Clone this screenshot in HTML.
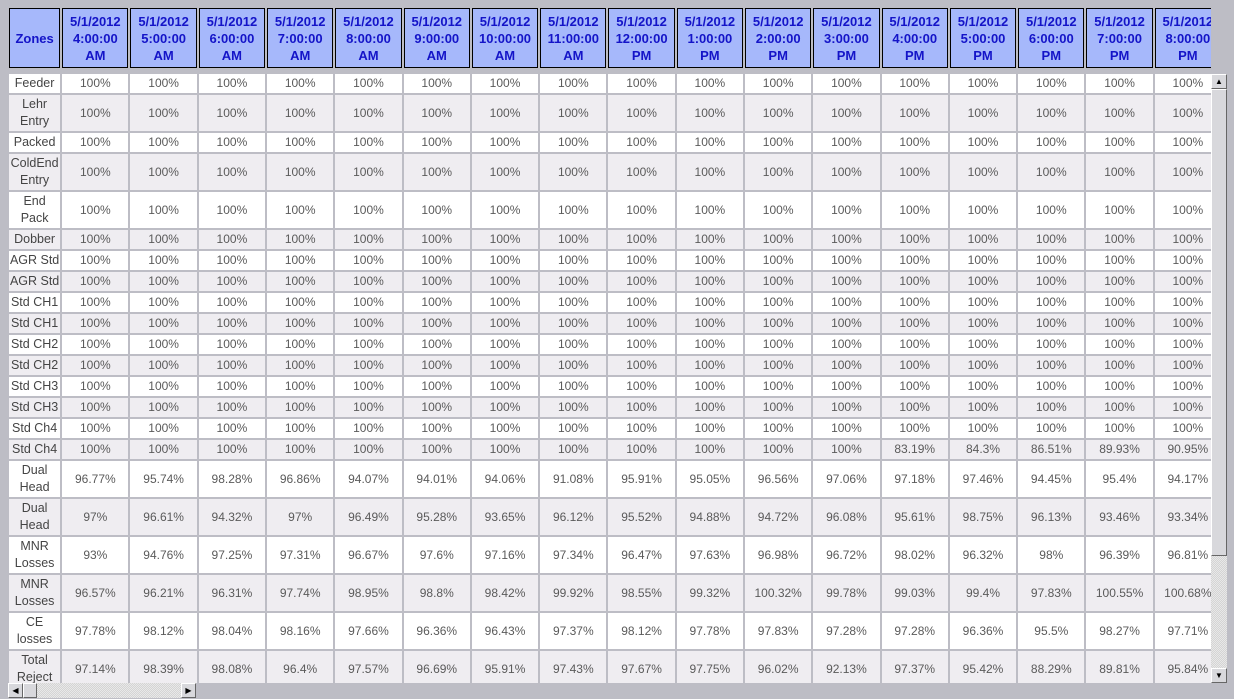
<!DOCTYPE html>
<html><head><meta charset="utf-8"><style>
body{margin:0;width:1234px;height:699px;background:#bdbdc5;position:relative;overflow:hidden;font-family:"Liberation Sans",sans-serif}
.clip{position:absolute;left:7px;overflow:hidden;width:1204px}
table{border-collapse:separate;border-spacing:2px;table-layout:fixed;width:1216px}
col.z{width:51px}col.c{width:66px}
th{background:#a6b8fb;border:1px solid #000;color:#1414c8;font-weight:bold;font-size:13px;line-height:17px;height:60px;padding:0;text-align:center;vertical-align:middle;box-sizing:border-box}
td{padding:0;text-align:center;vertical-align:middle;color:#5a5a5a;font-size:12px;height:19px;line-height:17px;white-space:nowrap;overflow:hidden}
td.n{font-size:12.5px;color:#444}
tr.w td{background:#fff}tr.g td{background:#efedf1}
tr.d td{height:36px}
.sb{position:absolute;background:repeating-conic-gradient(#e8e8e8 0 25%,#d4d4d4 0 50%) 0 0/2px 2px}
.btn{position:absolute;background:#d8d8dc;border:1px solid;border-color:#fff #666 #666 #fff;box-sizing:border-box;font-size:8px;line-height:13px;text-align:center;color:#000}
</style></head><body>
<div class="clip" style="top:6px;height:68px">
<table><colgroup><col class="z"><col class="c"><col class="c"><col class="c"><col class="c"><col class="c"><col class="c"><col class="c"><col class="c"><col class="c"><col class="c"><col class="c"><col class="c"><col class="c"><col class="c"><col class="c"><col class="c"><col class="c"></colgroup>
<tr><th>Zones</th><th>5/1/2012<br>4:00:00<br>AM</th><th>5/1/2012<br>5:00:00<br>AM</th><th>5/1/2012<br>6:00:00<br>AM</th><th>5/1/2012<br>7:00:00<br>AM</th><th>5/1/2012<br>8:00:00<br>AM</th><th>5/1/2012<br>9:00:00<br>AM</th><th>5/1/2012<br>10:00:00<br>AM</th><th>5/1/2012<br>11:00:00<br>AM</th><th>5/1/2012<br>12:00:00<br>PM</th><th>5/1/2012<br>1:00:00<br>PM</th><th>5/1/2012<br>2:00:00<br>PM</th><th>5/1/2012<br>3:00:00<br>PM</th><th>5/1/2012<br>4:00:00<br>PM</th><th>5/1/2012<br>5:00:00<br>PM</th><th>5/1/2012<br>6:00:00<br>PM</th><th>5/1/2012<br>7:00:00<br>PM</th><th>5/1/2012<br>8:00:00<br>PM</th></tr>
</table></div>
<div class="clip" style="top:72px;height:611px">
<table><colgroup><col class="z"><col class="c"><col class="c"><col class="c"><col class="c"><col class="c"><col class="c"><col class="c"><col class="c"><col class="c"><col class="c"><col class="c"><col class="c"><col class="c"><col class="c"><col class="c"><col class="c"><col class="c"></colgroup>
<tr class="w"><td class="n">Feeder</td><td>100%</td><td>100%</td><td>100%</td><td>100%</td><td>100%</td><td>100%</td><td>100%</td><td>100%</td><td>100%</td><td>100%</td><td>100%</td><td>100%</td><td>100%</td><td>100%</td><td>100%</td><td>100%</td><td>100%</td></tr>
<tr class="g d"><td class="n">Lehr<br>Entry</td><td>100%</td><td>100%</td><td>100%</td><td>100%</td><td>100%</td><td>100%</td><td>100%</td><td>100%</td><td>100%</td><td>100%</td><td>100%</td><td>100%</td><td>100%</td><td>100%</td><td>100%</td><td>100%</td><td>100%</td></tr>
<tr class="w"><td class="n">Packed</td><td>100%</td><td>100%</td><td>100%</td><td>100%</td><td>100%</td><td>100%</td><td>100%</td><td>100%</td><td>100%</td><td>100%</td><td>100%</td><td>100%</td><td>100%</td><td>100%</td><td>100%</td><td>100%</td><td>100%</td></tr>
<tr class="g d"><td class="n">ColdEnd<br>Entry</td><td>100%</td><td>100%</td><td>100%</td><td>100%</td><td>100%</td><td>100%</td><td>100%</td><td>100%</td><td>100%</td><td>100%</td><td>100%</td><td>100%</td><td>100%</td><td>100%</td><td>100%</td><td>100%</td><td>100%</td></tr>
<tr class="w d"><td class="n">End<br>Pack</td><td>100%</td><td>100%</td><td>100%</td><td>100%</td><td>100%</td><td>100%</td><td>100%</td><td>100%</td><td>100%</td><td>100%</td><td>100%</td><td>100%</td><td>100%</td><td>100%</td><td>100%</td><td>100%</td><td>100%</td></tr>
<tr class="g"><td class="n">Dobber</td><td>100%</td><td>100%</td><td>100%</td><td>100%</td><td>100%</td><td>100%</td><td>100%</td><td>100%</td><td>100%</td><td>100%</td><td>100%</td><td>100%</td><td>100%</td><td>100%</td><td>100%</td><td>100%</td><td>100%</td></tr>
<tr class="w"><td class="n">AGR Std</td><td>100%</td><td>100%</td><td>100%</td><td>100%</td><td>100%</td><td>100%</td><td>100%</td><td>100%</td><td>100%</td><td>100%</td><td>100%</td><td>100%</td><td>100%</td><td>100%</td><td>100%</td><td>100%</td><td>100%</td></tr>
<tr class="g"><td class="n">AGR Std</td><td>100%</td><td>100%</td><td>100%</td><td>100%</td><td>100%</td><td>100%</td><td>100%</td><td>100%</td><td>100%</td><td>100%</td><td>100%</td><td>100%</td><td>100%</td><td>100%</td><td>100%</td><td>100%</td><td>100%</td></tr>
<tr class="w"><td class="n">Std CH1</td><td>100%</td><td>100%</td><td>100%</td><td>100%</td><td>100%</td><td>100%</td><td>100%</td><td>100%</td><td>100%</td><td>100%</td><td>100%</td><td>100%</td><td>100%</td><td>100%</td><td>100%</td><td>100%</td><td>100%</td></tr>
<tr class="g"><td class="n">Std CH1</td><td>100%</td><td>100%</td><td>100%</td><td>100%</td><td>100%</td><td>100%</td><td>100%</td><td>100%</td><td>100%</td><td>100%</td><td>100%</td><td>100%</td><td>100%</td><td>100%</td><td>100%</td><td>100%</td><td>100%</td></tr>
<tr class="w"><td class="n">Std CH2</td><td>100%</td><td>100%</td><td>100%</td><td>100%</td><td>100%</td><td>100%</td><td>100%</td><td>100%</td><td>100%</td><td>100%</td><td>100%</td><td>100%</td><td>100%</td><td>100%</td><td>100%</td><td>100%</td><td>100%</td></tr>
<tr class="g"><td class="n">Std CH2</td><td>100%</td><td>100%</td><td>100%</td><td>100%</td><td>100%</td><td>100%</td><td>100%</td><td>100%</td><td>100%</td><td>100%</td><td>100%</td><td>100%</td><td>100%</td><td>100%</td><td>100%</td><td>100%</td><td>100%</td></tr>
<tr class="w"><td class="n">Std CH3</td><td>100%</td><td>100%</td><td>100%</td><td>100%</td><td>100%</td><td>100%</td><td>100%</td><td>100%</td><td>100%</td><td>100%</td><td>100%</td><td>100%</td><td>100%</td><td>100%</td><td>100%</td><td>100%</td><td>100%</td></tr>
<tr class="g"><td class="n">Std CH3</td><td>100%</td><td>100%</td><td>100%</td><td>100%</td><td>100%</td><td>100%</td><td>100%</td><td>100%</td><td>100%</td><td>100%</td><td>100%</td><td>100%</td><td>100%</td><td>100%</td><td>100%</td><td>100%</td><td>100%</td></tr>
<tr class="w"><td class="n">Std Ch4</td><td>100%</td><td>100%</td><td>100%</td><td>100%</td><td>100%</td><td>100%</td><td>100%</td><td>100%</td><td>100%</td><td>100%</td><td>100%</td><td>100%</td><td>100%</td><td>100%</td><td>100%</td><td>100%</td><td>100%</td></tr>
<tr class="g"><td class="n">Std Ch4</td><td>100%</td><td>100%</td><td>100%</td><td>100%</td><td>100%</td><td>100%</td><td>100%</td><td>100%</td><td>100%</td><td>100%</td><td>100%</td><td>100%</td><td>83.19%</td><td>84.3%</td><td>86.51%</td><td>89.93%</td><td>90.95%</td></tr>
<tr class="w d"><td class="n">Dual<br>Head</td><td>96.77%</td><td>95.74%</td><td>98.28%</td><td>96.86%</td><td>94.07%</td><td>94.01%</td><td>94.06%</td><td>91.08%</td><td>95.91%</td><td>95.05%</td><td>96.56%</td><td>97.06%</td><td>97.18%</td><td>97.46%</td><td>94.45%</td><td>95.4%</td><td>94.17%</td></tr>
<tr class="g d"><td class="n">Dual<br>Head</td><td>97%</td><td>96.61%</td><td>94.32%</td><td>97%</td><td>96.49%</td><td>95.28%</td><td>93.65%</td><td>96.12%</td><td>95.52%</td><td>94.88%</td><td>94.72%</td><td>96.08%</td><td>95.61%</td><td>98.75%</td><td>96.13%</td><td>93.46%</td><td>93.34%</td></tr>
<tr class="w d"><td class="n">MNR<br>Losses</td><td>93%</td><td>94.76%</td><td>97.25%</td><td>97.31%</td><td>96.67%</td><td>97.6%</td><td>97.16%</td><td>97.34%</td><td>96.47%</td><td>97.63%</td><td>96.98%</td><td>96.72%</td><td>98.02%</td><td>96.32%</td><td>98%</td><td>96.39%</td><td>96.81%</td></tr>
<tr class="g d"><td class="n">MNR<br>Losses</td><td>96.57%</td><td>96.21%</td><td>96.31%</td><td>97.74%</td><td>98.95%</td><td>98.8%</td><td>98.42%</td><td>99.92%</td><td>98.55%</td><td>99.32%</td><td>100.32%</td><td>99.78%</td><td>99.03%</td><td>99.4%</td><td>97.83%</td><td>100.55%</td><td>100.68%</td></tr>
<tr class="w d"><td class="n">CE<br>losses</td><td>97.78%</td><td>98.12%</td><td>98.04%</td><td>98.16%</td><td>97.66%</td><td>96.36%</td><td>96.43%</td><td>97.37%</td><td>98.12%</td><td>97.78%</td><td>97.83%</td><td>97.28%</td><td>97.28%</td><td>96.36%</td><td>95.5%</td><td>98.27%</td><td>97.71%</td></tr>
<tr class="g d"><td class="n">Total<br>Reject</td><td>97.14%</td><td>98.39%</td><td>98.08%</td><td>96.4%</td><td>97.57%</td><td>96.69%</td><td>95.91%</td><td>97.43%</td><td>97.67%</td><td>97.75%</td><td>96.02%</td><td>92.13%</td><td>97.37%</td><td>95.42%</td><td>88.29%</td><td>89.81%</td><td>95.84%</td></tr>
</table></div>
<div class="sb" style="left:1211px;top:74px;width:16px;height:609px"></div>
<div class="btn" style="left:1211px;top:74px;width:16px;height:15px">▲</div>
<div class="btn" style="left:1211px;top:89px;width:16px;height:467px"></div>
<div class="btn" style="left:1211px;top:668px;width:16px;height:15px">▼</div>
<div class="sb" style="left:8px;top:683px;width:188px;height:15px"></div>
<div class="btn" style="left:8px;top:683px;width:15px;height:15px">◀</div>
<div class="btn" style="left:23px;top:683px;width:14px;height:15px"></div>
<div class="btn" style="left:181px;top:683px;width:15px;height:15px">▶</div>
</body></html>
